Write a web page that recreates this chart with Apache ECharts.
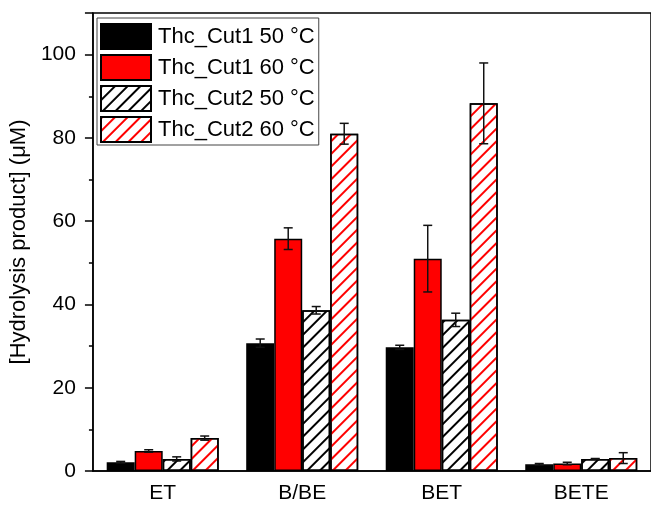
<!DOCTYPE html>
<html><head><meta charset="utf-8">
<script src="https://cdn.jsdelivr.net/npm/echarts@6/dist/echarts.min.js"></script>
<style>html,body{margin:0;padding:0;background:#fff}#c{width:651px;height:505px}</style>
</head><body><div id="c"></div>
<script>
var categories = ['ET', 'B/BE', 'BET', 'BETE'];
var seriesNames = ['Thc_Cut1 50 °C', 'Thc_Cut1 60 °C', 'Thc_Cut2 50 °C', 'Thc_Cut2 60 °C'];
var cut1_50 = [2.1, 30.7, 29.7, 1.6];
var cut1_50_err = [0.2, 1.0, 0.5, 0.2];
var cut1_60 = [4.8, 55.8, 51.0, 1.8];
var cut1_60_err = [0.3, 2.6, 8.0, 0.3];
var cut2_50 = [2.9, 38.6, 36.3, 2.9];
var cut2_50_err = [0.5, 0.9, 1.6, 0.1];
var cut2_60 = [7.9, 81.0, 88.3, 3.1];
var cut2_60_err = [0.5, 2.5, 9.7, 1.3];
var yTicks = [0, 20, 40, 60, 80, 100];

var FONT = 'Liberation Sans';
var BW = 28;
var values = [cut1_50, cut1_60, cut2_50, cut2_60];
var errs = [cut1_50_err, cut1_60_err, cut2_50_err, cut2_60_err];

function hatch(color) {
  return {color: color, symbol: 'rect', symbolSize: 1, dashArrayX: [1, 0], dashArrayY: [2, 7], rotation: -Math.PI / 4};
}
var styles = [
  {color: '#000', borderColor: '#000', borderWidth: 1.5},
  {color: '#ff0000', borderColor: '#000', borderWidth: 1.5},
  {color: '#fff', borderColor: '#000', borderWidth: 1.5, decal: hatch('#000')},
  {color: '#fff', borderColor: '#000', borderWidth: 1.5, decal: hatch('#ff0000')}
];

var series = [];
for (var i = 0; i < 4; i++) {
  series.push({
    name: seriesNames[i], type: 'bar', data: values[i], barWidth: BW, barGap: '0%',
    itemStyle: styles[i], emphasis: {disabled: true}, xAxisIndex: 0
  });
}
for (var j = 0; j < 4; j++) {
  (function (k) {
    var d = categories.map(function (c, ci) { return [ci, values[k][ci] - errs[k][ci], values[k][ci] + errs[k][ci]]; });
    series.push({
      type: 'custom', xAxisIndex: 0, data: d, z: 10, silent: true,
      renderItem: function (params, api) {
        var lo = api.coord([api.value(0), api.value(1)]);
        var hi = api.coord([api.value(0), api.value(2)]);
        var x = lo[0] + (k - 1.5) * BW;
        var cw = 4.5;
        var st = {stroke: '#111', lineWidth: 1.5};
        return {type: 'group', children: [
          {type: 'line', shape: {x1: x, y1: lo[1], x2: x, y2: hi[1]}, style: st},
          {type: 'line', shape: {x1: x - cw, y1: hi[1], x2: x + cw, y2: hi[1]}, style: st},
          {type: 'line', shape: {x1: x - cw, y1: lo[1], x2: x + cw, y2: lo[1]}, style: st}
        ]};
      }
    });
  })(j);
}

var chart = echarts.init(document.getElementById('c'));
chart.setOption({
  animation: false,
  textStyle: {fontFamily: FONT},
  grid: {left: 92, top: 13, width: 565, height: 458, show: true, borderColor: '#000', borderWidth: 1.5, backgroundColor: 'transparent'},
  legend: {
    data: seriesNames.map(function (n) { return {name: n, icon: 'rect'}; }),
    orient: 'vertical', left: 97, top: 18,
    itemWidth: 50, itemHeight: 25, itemGap: 4, padding: [5, 4, 2, 3],
    borderColor: '#444', borderWidth: 1,
    textStyle: {fontFamily: FONT, fontSize: 22, color: '#000', lineHeight: 25, padding: [0, 0, 0, 2]},
    selectedMode: false
  },
  xAxis: [{
    type: 'category', data: categories, position: 'bottom',
    axisLine: {lineStyle: {color: '#000', width: 1.5}},
    axisTick: {alignWithLabel: true, length: 8, lineStyle: {color: '#000', width: 1.5}},
    axisLabel: {fontSize: 21, color: '#000', margin: 12, fontFamily: FONT},
    splitLine: {show: false}
  }, {
    type: 'category', data: categories, position: 'bottom',
    axisLine: {show: false},
    axisTick: {alignWithLabel: false, length: 4, lineStyle: {color: '#000', width: 1.5}},
    axisLabel: {show: false}, splitLine: {show: false}
  }],
  yAxis: {
    type: 'value', min: 0, max: 110, interval: 20,
    name: '[Hydrolysis product] (μM)', nameLocation: 'middle', nameGap: 57,
    nameTextStyle: {fontSize: 22, color: '#000', fontFamily: FONT},
    axisLine: {show: true, lineStyle: {color: '#000', width: 1.5}},
    axisTick: {show: true, length: 8, lineStyle: {color: '#000', width: 1.5}},
    minorTick: {show: true, splitNumber: 2, length: 4, lineStyle: {color: '#000', width: 1.5}},
    axisLabel: {fontSize: 21, color: '#000', margin: 17, fontFamily: FONT,
      formatter: function (v) { return yTicks.indexOf(v) >= 0 ? String(v) : ''; }},
    splitLine: {show: false}
  },
  series: series
});
</script></body></html>
